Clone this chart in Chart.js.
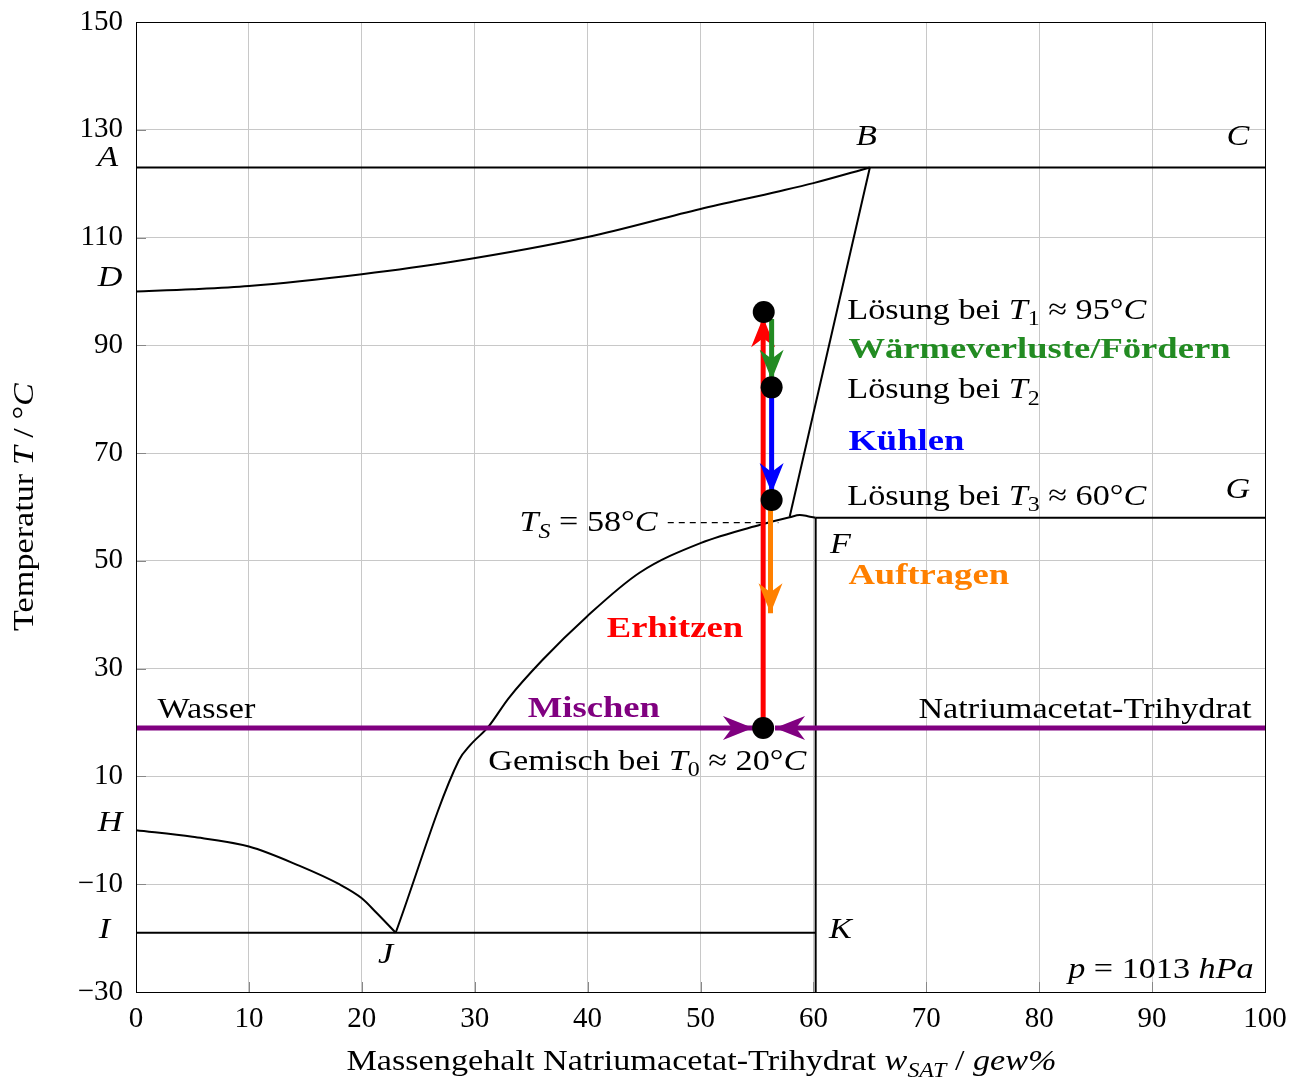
<!DOCTYPE html>
<html>
<head>
<meta charset="utf-8">
<script src="https://cdn.jsdelivr.net/npm/chart.js@4"></script>
<style>
  body { margin: 0; background: #fff; }
  #wrap { width: 1304px; height: 1080px; }
</style>
</head>
<body>
<div id="wrap"><canvas id="phase"></canvas></div>
<script>
// axis ticks
const xTicks = [0, 10, 20, 30, 40, 50, 60, 70, 80, 90, 100];
const yTicks = [-30, -10, 10, 30, 50, 70, 90, 110, 130, 150];

// phase boundaries (w in gew%, T in °C)
const lineAC = [[0, 123], [100, 123]];
const curveDB = [[0, 100], [5, 100.4], [10, 101], [20, 103.2], [28, 105.5], [40, 110.1], [50, 115.3], [57, 118.6], [60, 120.1], [65, 123]];
const lineBS = [[65, 123], [57.9, 58.2]];
const curveJF = [[23, -19], [28.6, 13], [29.6, 15.8], [31.2, 19.2], [33, 24.5], [36, 31.6], [39.9, 39.6], [44.6, 47.8], [50, 53.3], [55.3, 56.7], [57.9, 58.1], [58.8, 58.5], [59.5, 58.3], [60.2, 58]];
const curveHJ = [[0, 0], [5, -1.2], [10, -3], [14.5, -6.6], [18, -10], [20, -12.6], [21.3, -15.3], [23, -19]];
const lineIK = [[0, -19], [60.2, -19]];
const lineFK = [[60.2, 58], [60.2, -30]];
const lineFG = [[60.2, 58], [100, 58]];
const lineTS = [[47.1, 57.1], [56.9, 57.1]];

// process states and steps
const states = [[55.55, 19], [55.6, 96.2], [56.3, 82.2], [56.3, 61.3]];
const mixLeft = [[0, 19], [54.65, 19]];
const mixRight = [[100, 19], [56.6, 19]];
const heatUp = [[55.55, 19], [55.55, 95.2]];
const heatLoss = [[56.3, 94.9], [56.3, 83.6]];
const cooling = [[56.3, 82.2], [56.3, 62.6]];
const applying = [[56.2, 61.3], [56.2, 40.3]];

const RED = '#ff0000', GREEN = '#228b22', BLUE = '#0000ff', ORANGE = '#ff8000', PURPLE = '#800080';
const FONT = '"Liberation Serif", "DejaVu Serif", serif';
const FS = 30;

const pts = arr => arr.map(p => ({ x: p[0], y: p[1] }));

function phaseLine(arr, extra) {
    return Object.assign({
        data: pts(arr), showLine: true, borderColor: '#000', borderWidth: 2,
        pointRadius: 0, fill: false, tension: 0
    }, extra || {});
}
function arrowLine(arr, color) {
    return {
        data: pts(arr), showLine: true, borderColor: color, borderWidth: 5,
        pointRadius: 0, fill: false, arrow: true, borderCapStyle: 'butt'
    };
}

// text annotations, placed in data coordinates
const notes = [
    { x: 63.0, y: 96.4, a: 'left', c: '#000', p: [['Lösung bei ', 'r'], ['T', 'i'], ['1', 's'], [' ≈ 95°', 'r'], ['C', 'i']] },
    { x: 63.1, y: 89.1, a: 'left', c: GREEN, p: [['Wärmeverluste/Fördern', 'b']] },
    { x: 63.0, y: 81.7, a: 'left', c: '#000', p: [['Lösung bei ', 'r'], ['T', 'i'], ['2', 's']] },
    { x: 63.1, y: 72.1, a: 'left', c: BLUE, p: [['Kühlen', 'b']] },
    { x: 63.0, y: 61.9, a: 'left', c: '#000', p: [['Lösung bei ', 'r'], ['T', 'i'], ['3', 's'], [' ≈ 60°', 'r'], ['C', 'i']] },
    { x: 63.1, y: 47.2, a: 'left', c: ORANGE, p: [['Auftragen', 'b']] },
    { x: 46.2, y: 57.0, a: 'right', c: '#000', p: [['T', 'i'], ['S', 'si'], [' = 58°', 'r'], ['C', 'i']] },
    { x: 41.7, y: 37.4, a: 'left', c: RED, p: [['Erhitzen', 'b']] },
    { x: 1.9, y: 22.3, a: 'left', c: '#000', p: [['Wasser', 'r']] },
    { x: 34.7, y: 22.5, a: 'left', c: PURPLE, p: [['Mischen', 'b']] },
    { x: 98.8, y: 22.3, a: 'right', c: '#000', p: [['Natriumacetat-Trihydrat', 'r']] },
    { x: 31.2, y: 12.7, a: 'left', c: '#000', p: [['Gemisch bei ', 'r'], ['T', 'i'], ['0', 's'], [' ≈ 20°', 'r'], ['C', 'i']] },
    { x: 99.0, y: -25.9, a: 'right', c: '#000', p: [['p', 'i'], [' = 1013 ', 'r'], ['hPa', 'i']] },
    { x: -2.5, y: 124.8, a: 'center', c: '#000', p: [['A', 'i']] },
    { x: -2.3, y: 102.5, a: 'center', c: '#000', p: [['D', 'i']] },
    { x: -2.3, y: 1.4, a: 'center', c: '#000', p: [['H', 'i']] },
    { x: -2.8, y: -18.5, a: 'center', c: '#000', p: [['I', 'i']] },
    { x: 64.7, y: 128.7, a: 'center', c: '#000', p: [['B', 'i']] },
    { x: 97.6, y: 128.7, a: 'center', c: '#000', p: [['C', 'i']] },
    { x: 97.6, y: 63.2, a: 'center', c: '#000', p: [['G', 'i']] },
    { x: 62.4, y: 52.9, a: 'center', c: '#000', p: [['F', 'i']] },
    { x: 22.1, y: -23.1, a: 'center', c: '#000', p: [['J', 'i']] },
    { x: 62.4, y: -18.5, a: 'center', c: '#000', p: [['K', 'i']] }
];

function fontFor(style) {
    const sub = style === 's' || style === 'si';
    const size = sub ? Math.round(FS * 0.7) : FS;
    let f = '';
    if (style === 'i' || style === 'si') f += 'italic ';
    if (style === 'b') f += 'bold ';
    return f + size + 'px ' + FONT;
}
// Computer Modern runs wider than Times, so stretch a bit
const stretch = style => (style === 'b' ? 1.22 : 1.14);

function drawRich(ctx, parts, x, y, align, color) {
    ctx.save();
    ctx.fillStyle = color;
    ctx.textBaseline = 'middle';
    ctx.textAlign = 'left';
    let w = 0;
    parts.forEach(p => { ctx.font = fontFor(p[1]); w += ctx.measureText(p[0]).width * stretch(p[1]); });
    let cx = align === 'left' ? x : align === 'right' ? x - w : x - w / 2;
    parts.forEach(p => {
        ctx.font = fontFor(p[1]);
        const sub = p[1] === 's' || p[1] === 'si';
        const sx = stretch(p[1]);
        ctx.save();
        ctx.translate(cx, sub ? y + FS * 0.3 : y);
        ctx.scale(sx, 1);
        ctx.fillText(p[0], 0, 0);
        ctx.restore();
        cx += ctx.measureText(p[0]).width * sx;
    });
    ctx.restore();
}

function arrowHead(ctx, x0, y0, x1, y1, color) {
    const ang = Math.atan2(y1 - y0, x1 - x0);
    const len = 30, half = 12, notch = 9;
    ctx.save();
    ctx.translate(x1, y1);
    ctx.rotate(ang);
    ctx.fillStyle = color;
    ctx.beginPath();
    ctx.moveTo(0, 0);
    ctx.lineTo(-len, -half);
    ctx.lineTo(-len + notch, 0);
    ctx.lineTo(-len, half);
    ctx.closePath();
    ctx.fill();
    ctx.restore();
}

const decor = {
    id: 'decor',
    afterDatasetDraw(chart, args) {
        const ds = chart.data.datasets[args.index];
        if (!ds.arrow) return;
        const d = args.meta.data;
        const a = d[d.length - 2], b = d[d.length - 1];
        const ctx = chart.ctx;
        ctx.save();
        ctx.beginPath();
        ctx.rect(chart.chartArea.left, chart.chartArea.top, chart.chartArea.width, chart.chartArea.height);
        ctx.clip();
        arrowHead(ctx, a.x, a.y, b.x, b.y, ds.borderColor);
        ctx.restore();
    },
    beforeDatasetsDraw(chart) {
        // short inner tick marks along the bottom and left axis
        const ctx = chart.ctx, xs = chart.scales.x, ys = chart.scales.y, ca = chart.chartArea;
        ctx.save();
        ctx.strokeStyle = '#888';
        ctx.lineWidth = 1;
        ctx.beginPath();
        xTicks.forEach(v => { const px = Math.round(xs.getPixelForValue(v)) + 0.5; ctx.moveTo(px, ca.bottom); ctx.lineTo(px, ca.bottom - 10); });
        yTicks.forEach(v => { const py = Math.round(ys.getPixelForValue(v)) + 0.5; ctx.moveTo(ca.left, py); ctx.lineTo(ca.left + 10, py); });
        ctx.stroke();
        ctx.restore();
    },
    afterDraw(chart) {
        const ctx = chart.ctx, xs = chart.scales.x, ys = chart.scales.y, ca = chart.chartArea;
        ctx.save();
        ctx.strokeStyle = '#000';
        ctx.lineWidth = 1;
        ctx.strokeRect(ca.left + 0.5, ca.top + 0.5, ca.width, ca.height);
        ctx.restore();
        notes.forEach(n => drawRich(ctx, n.p, xs.getPixelForValue(n.x), ys.getPixelForValue(n.y), n.a, n.c));
        // axis titles
        drawRich(ctx, [['Massengehalt Natriumacetat-Trihydrat ', 'r'], ['w', 'i'], ['SAT', 'si'], [' / ', 'r'], ['gew%', 'i']],
            (ca.left + ca.right) / 2 + 1, 1062, 'center', '#000');
        ctx.save();
        ctx.translate(25, (ca.top + ca.bottom) / 2);
        ctx.rotate(-Math.PI / 2);
        drawRich(ctx, [['Temperatur ', 'r'], ['T', 'i'], [' / °', 'r'], ['C', 'i']], 0, 0, 'center', '#000');
        ctx.restore();
    }
};

new Chart(document.getElementById('phase'), {
    type: 'scatter',
    data: {
        datasets: [
            { data: pts(states), pointRadius: 11, pointBackgroundColor: '#000', pointBorderWidth: 0, showLine: false },
            arrowLine(mixLeft, PURPLE),
            arrowLine(mixRight, PURPLE),
            arrowLine(heatLoss, GREEN),
            arrowLine(cooling, BLUE),
            arrowLine(applying, ORANGE),
            arrowLine(heatUp, RED),
            phaseLine(lineTS, { borderWidth: 1.2, borderDash: [6, 5] }),
            phaseLine(lineAC),
            phaseLine(curveDB, { cubicInterpolationMode: 'monotone' }),
            phaseLine(lineBS),
            phaseLine(curveJF, { cubicInterpolationMode: 'monotone' }),
            phaseLine(curveHJ, { cubicInterpolationMode: 'monotone' }),
            phaseLine(lineIK),
            phaseLine(lineFK),
            phaseLine(lineFG)
        ]
    },
    options: {
        responsive: true,
        maintainAspectRatio: false,
        animation: false,
        layout: { padding: { top: 22, right: 39, left: 0, bottom: 0 } },
        plugins: { legend: { display: false }, tooltip: { enabled: false } },
        scales: {
            x: {
                type: 'linear', min: 0, max: 100,
                afterBuildTicks: s => { s.ticks = xTicks.map(v => ({ value: v })); },
                afterFit: s => { s.height = 88; s.paddingLeft = 0; s.paddingRight = 0; },
                grid: { color: '#c8c8c8', lineWidth: 1, drawTicks: false },
                border: { color: '#000', width: 1 },
                ticks: { color: '#000', padding: 10, font: { family: FONT, size: 29 }, maxRotation: 0 }
            },
            y: {
                type: 'linear', min: -30, max: 150,
                afterBuildTicks: s => { s.ticks = yTicks.map(v => ({ value: v })); },
                afterFit: s => { s.width = 136; s.paddingTop = 0; s.paddingBottom = 0; },
                grid: { color: '#c8c8c8', lineWidth: 1, drawTicks: false },
                border: { color: '#000', width: 1 },
                ticks: {
                    color: '#000', padding: 13, font: { family: FONT, size: 29 },
                    callback: v => (v < 0 ? '\u2212' + Math.abs(v) : String(v))
                }
            }
        }
    },
    plugins: [decor]
});
</script>
</body>
</html>
